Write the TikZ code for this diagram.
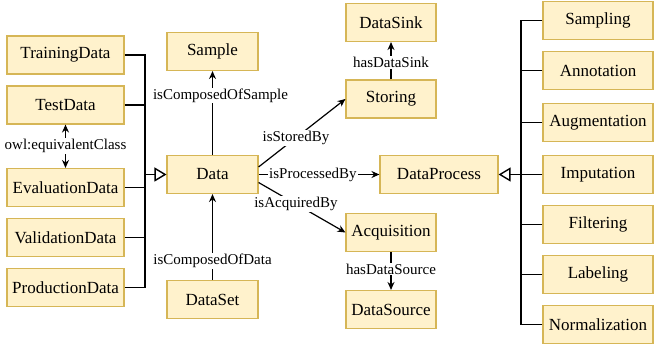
\documentclass[tikz,border=0pt]{standalone}
\usepackage{fontspec}
\setmainfont{Liberation Serif}
\newfontfamily\termsfont{Liberation Serif}
\usetikzlibrary{shapes,arrows,arrows.meta,positioning}

\definecolor{boxfill}{HTML}{FFF2CC}
\definecolor{boxline}{HTML}{D6B656}

\begin{document}
\begin{tikzpicture}[
    x=1pt, y=-1pt,
    thick,
    concept/.style={rectangle, draw=boxline, fill=boxfill, line width=1.1pt, minimum height=38pt, inner sep=2pt, font=\termsfont\fontsize{17}{20}\selectfont},
    subset/.style={concept, minimum width=117pt},
    part/.style={concept, minimum width=91pt},
    process/.style={concept, minimum width=110pt},
    line/.style={line width=1.2pt, black},
    arrow/.style={line width=1.2pt, -{Stealth[length=8pt, width=7pt]}},
    inherit/.style={line width=1.2pt, -{Triangle[open, length=12pt, width=14pt, line width=1.4pt]}},
    relation/.style={font=\termsfont\fontsize{15}{17}\selectfont, fill=white, inner sep=1pt}
]
\useasboundingbox (0,0) rectangle (655,347);

% Data Subclasses - Left Column
\node[subset] (training) at (65.5,55) {TrainingData};
\node[subset] (test) at (65.5,105) {TestData};
\node[subset] (evaluation) at (65.5,187.5) {EvaluationData};
\node[subset] (validation) at (65.5,237.5) {ValidationData};
\node[subset] (production) at (65.5,287.5) {ProductionData};

% Data and its Parts - Middle Column
\node[part] (sample) at (212.5,51.5) {Sample};
\node[part] (data) at (212.5,174.5) {Data};
\node[part] (dataset) at (212.5,299.5) {DataSet};

% Storing and Acquisition
\node[part, minimum width=90pt] (datasink) at (391,22.5) {DataSink};
\node[part, minimum width=90pt] (storing) at (391,99) {Storing};
\node[part, minimum width=118pt] (dataprocess) at (439,174.5) {DataProcess};
\node[part, minimum width=90pt] (acquisition) at (391,232.5) {Acquisition};
\node[part, minimum width=90pt] (datasource) at (391,309.5) {DataSource};

% Process Subclasses - Right Column
\node[process] (sampling) at (598,20.5) {Sampling};
\node[process] (annotation) at (598,70.5) {Annotation};
\node[process] (augmentation) at (598,122.5) {Augmentation};
\node[process] (imputation) at (598,174.5) {Imputation};
\node[process] (filtering) at (598,224.5) {Filtering};
\node[process] (labeling) at (598,274.5) {Labeling};
\node[process] (normalization) at (598,324.5) {Normalization};

% Junction Points
\coordinate (leftbus) at (145,174.5);
\coordinate (rightbus) at (521,174.5);

% Subclass Connections - Left
\foreach \n in {training,test,evaluation,validation,production}
    \draw[line] (\n.east) -| (leftbus);
\draw[inherit] (leftbus) -- (data.west);

% Subclass Connections - Right
\foreach \n in {sampling,annotation,augmentation,imputation,filtering,labeling,normalization}
    \draw[line] (\n.west) -| (rightbus);
\draw[inherit] (rightbus) -- (dataprocess.east);

% Equivalence
\draw[line, {Stealth[length=8pt,width=7pt]}-{Stealth[length=8pt,width=7pt]}] (test.south) -- node[relation] {owl:equivalentClass} (evaluation.north);

% Composition
\draw[arrow] (data.north) -- node[relation, pos=0.71, xshift=8pt] {isComposedOfSample} (sample.south);
\draw[arrow] (dataset.north) -- node[relation, pos=0.22] {isComposedOfData} (data.south);

% Data Relations
\draw[arrow] ([yshift=7.5pt]data.east) -- node[relation, pos=0.43] {isStoredBy} (storing.west);
\draw[arrow] (data.east) -- node[relation, pos=0.45] {isProcessedBy} (dataprocess.west);
\draw[arrow] ([yshift=-8pt]data.east) -- node[relation, pos=0.43] {isAcquiredBy} (acquisition.west);

% Sink and Source
\draw[arrow] (storing.north) -- node[relation, pos=0.45] {hasDataSink} (datasink.south);
\draw[arrow] (acquisition.south) -- node[relation, pos=0.45] {hasDataSource} (datasource.north);

\end{tikzpicture}
\end{document}
